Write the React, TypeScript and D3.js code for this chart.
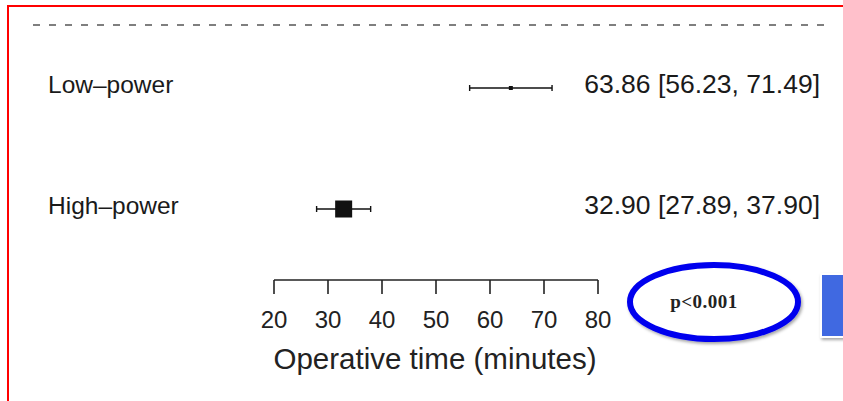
//@ts-nocheck
import React from "react";
import * as d3 from "d3";

const groups = ["Low–power", "High–power"];
const estimates = [63.86, 32.9];
const lowerCI = [56.23, 27.89];
const upperCI = [71.49, 37.9];
const boxSizes = [4, 17];
const axisTicks = [20, 30, 40, 50, 60, 70, 80];
const axisTitle = "Operative time (minutes)";
const pLabel = "p<0.001";

const W = 843;
const H = 401;

export default function App() {
  const x = d3.scaleLinear().domain([20, 80]).range([274, 598]);
  const y = d3.scalePoint().domain(groups).range([88, 209]);
  const fmt = d3.format(".2f");
  const axisY = 280;

  return (
    <svg
      width={W}
      height={H}
      style={{ position: "absolute", left: 0, top: 0, background: "#fff" }}
      fontFamily="'Liberation Sans', Arial, Helvetica, sans-serif"
    >
      <defs>
        <filter id="shadow" x="-20%" y="-20%" width="140%" height="140%">
          <feDropShadow dx="1.5" dy="2" stdDeviation="1.5" floodColor="#000" floodOpacity="0.35" />
        </filter>
      </defs>

      {/* red frame */}
      <rect x={8} y={6} width={W} height={H} fill="none" stroke="#ff0000" strokeWidth={2} />

      {/* dashed separator */}
      <line x1={33} x2={826} y1={25} y2={25} stroke="#555" strokeWidth={1.5} strokeDasharray="7,9" />

      {groups.map((g, i) => {
        const cy = y(g);
        const s = boxSizes[i];
        return (
          <g key={g}>
            <text x={48} y={cy + 5} fontSize={24.5} fill="#1a1a1a">{g}</text>
            <line x1={x(lowerCI[i])} x2={x(upperCI[i])} y1={cy} y2={cy} stroke="#111" strokeWidth={1.6} />
            <line x1={x(lowerCI[i])} x2={x(lowerCI[i])} y1={cy - 3} y2={cy + 3} stroke="#111" strokeWidth={1.4} />
            <line x1={x(upperCI[i])} x2={x(upperCI[i])} y1={cy - 3} y2={cy + 3} stroke="#111" strokeWidth={1.4} />
            <rect x={x(estimates[i]) - s / 2} y={cy - s / 2} width={s} height={s} fill="#111" />
            <text x={820} y={cy + 5} fontSize={26.5} textAnchor="end" fill="#1a1a1a">
              {`${fmt(estimates[i])} [${fmt(lowerCI[i])}, ${fmt(upperCI[i])}]`}
            </text>
          </g>
        );
      })}

      {/* x axis */}
      <line x1={x(20)} x2={x(80)} y1={axisY} y2={axisY} stroke="#222" strokeWidth={1.6} />
      {axisTicks.map((t) => (
        <g key={t}>
          <line x1={x(t)} x2={x(t)} y1={axisY} y2={axisY + 14} stroke="#222" strokeWidth={1.6} />
          <text x={x(t)} y={328} fontSize={24} textAnchor="middle" fill="#222">{t}</text>
        </g>
      ))}
      <text x={(x(20) + x(80)) / 2 - 1} y={369} fontSize={29.5} textAnchor="middle" fill="#222">{axisTitle}</text>

      {/* p-value annotation */}
      <ellipse cx={714} cy={302} rx={84} ry={37} fill="#fff" stroke="#0000ee" strokeWidth={6} filter="url(#shadow)" />
      <text x={704} y={308} fontSize={19} fontWeight={600} textAnchor="middle" fill="#222"
        letterSpacing={0.5} fontFamily="'Liberation Serif', 'Times New Roman', serif">{pLabel}</text>

      {/* blue box at right edge */}
      <rect x={821} y={274} width={40} height={63} fill="#4169e1" stroke="#fff" strokeWidth={2} filter="url(#shadow)" />
    </svg>
  );
}
